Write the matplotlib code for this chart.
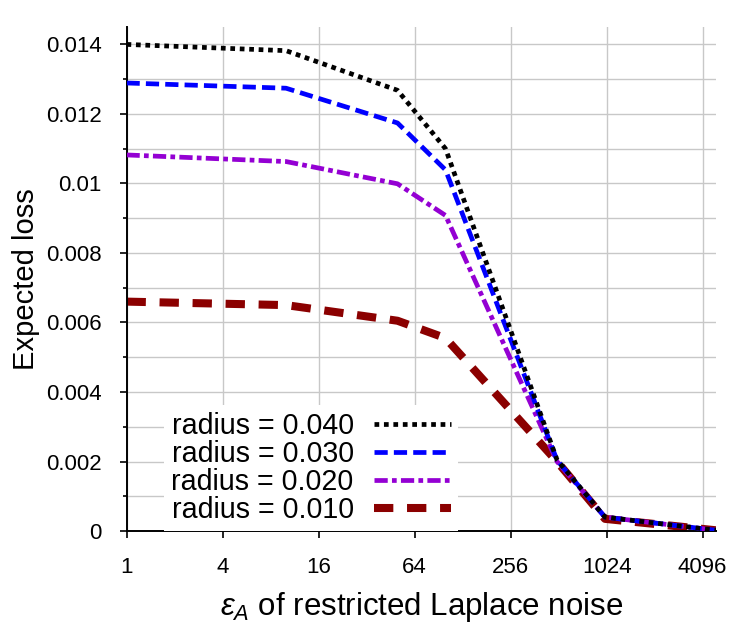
import matplotlib
matplotlib.use('Agg')
import matplotlib.pyplot as plt
from matplotlib.ticker import FixedLocator, NullFormatter

plt.rcParams['font.family'] = ['Liberation Sans', 'DejaVu Sans']
plt.rcParams['mathtext.fontset'] = 'custom'
plt.rcParams['mathtext.rm'] = 'Liberation Sans'
plt.rcParams['mathtext.it'] = 'Liberation Sans:italic'

# data
eps = [1, 10, 50, 100, 500, 1000, 5000]
loss_040 = [0.01400, 0.01382, 0.01268, 0.01100, 0.00205, 0.00040, 0.00002]
loss_030 = [0.01289, 0.01274, 0.01174, 0.01039, 0.00204, 0.00040, 0.00002]
loss_020 = [0.01082, 0.01063, 0.00999, 0.00908, 0.00200, 0.00040, 0.00002]
loss_010 = [0.00660, 0.00650, 0.00605, 0.00555, 0.00200, 0.00035, 0.00002]
xticks = [1, 4, 16, 64, 256, 1024, 4096]
yticks = [0, 0.002, 0.004, 0.006, 0.008, 0.01, 0.012, 0.014]
ytick_labels = ['0', '0.002', '0.004', '0.006', '0.008', '0.01', '0.012', '0.014']
yminor = [0.001, 0.003, 0.005, 0.007, 0.009, 0.011, 0.013]

fig = plt.figure(figsize=(7.5, 6.3), dpi=100)
ax = fig.add_axes([0.1687, 0.1571, 0.7866, 0.8000])

ax.plot(eps, loss_040, color='black', lw=3.4, linestyle=(0, (1, 1)),
        dash_capstyle='butt', label='radius = 0.040', zorder=5)
ax.plot(eps, loss_030, color='#0000ff', lw=3.4, linestyle=(0, (2.8, 1.3)),
        dash_capstyle='butt', label='radius = 0.030', zorder=4)
ax.plot(eps, loss_020, color='#9400d3', lw=3.4, linestyle=(0, (2.8, 0.9, 1, 0.9)),
        dash_capstyle='butt', label='radius = 0.020', zorder=3)
ax.plot(eps, loss_010, color='#8b0000', lw=5.8, linestyle=(0, (2.4, 1.7)),
        dash_capstyle='butt', label='radius = 0.010', zorder=2)

ax.set_xscale('log', base=2)
ax.set_xlim(1, 5000)
ax.set_ylim(0, 0.0145)
ax.set_xticks(xticks)
ax.set_xticklabels([str(t) for t in xticks])
ax.xaxis.set_minor_locator(FixedLocator([]))
ax.set_yticks(yticks)
ax.set_yticklabels(ytick_labels)
ax.yaxis.set_minor_locator(FixedLocator(yminor))
ax.yaxis.set_minor_formatter(NullFormatter())

ax.grid(True, which='both', color='#c8c8c8', lw=1.0)
ax.set_axisbelow(True)
for s in ['top', 'right']:
    ax.spines[s].set_visible(False)
for s in ['left', 'bottom']:
    ax.spines[s].set_linewidth(1.4)

ax.tick_params(axis='both', which='major', direction='out', length=5, width=1.2,
               labelsize=16)
ax.tick_params(axis='x', which='major', pad=14)
ax.tick_params(axis='y', which='major', pad=13)
ax.tick_params(axis='y', which='minor', direction='out', length=3, width=1.2)

ax.set_ylabel('Expected loss', fontsize=21, labelpad=4)
ax.set_xlabel(r'$\varepsilon_A$ of restricted Laplace noise', fontsize=22.5, labelpad=8)

leg = ax.legend(loc='lower right', bbox_to_anchor=(0.562, 0.0), markerfirst=False,
                fontsize=20.6, frameon=True, facecolor='white', edgecolor='none',
                framealpha=1, fancybox=False, handlelength=2.7, handletextpad=0.7,
                labelspacing=0.0, borderpad=0.25, borderaxespad=0.0)
for t in leg.get_texts():
    t.set_ha('right')

fig.savefig('out.png', dpi=100)
